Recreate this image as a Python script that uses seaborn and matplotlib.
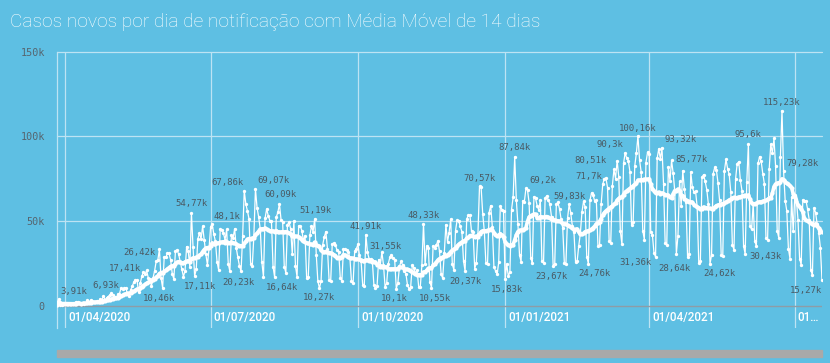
import numpy as np
import pandas as pd
import matplotlib.pyplot as plt
from matplotlib.transforms import ScaledTranslation
from matplotlib.patches import Rectangle
import seaborn as sns

# casos novos por dia de notificação (milhares), de 27/03/2020 a 18/07/2021
mar_2020 = [0.50, 3.91, 0.35, 0.32, 1.14]
apr_2020 = [1.12, 1.07, 1.15, 1.22, 0.85, 0.93, 1.66, 2.21, 1.93, 1.78,
            1.09, 1.44, 1.26, 1.83, 3.06, 2.11, 3.26, 2.92, 2.06, 1.93,
            2.50, 2.68, 3.74, 3.50, 5.51, 3.38, 4.61, 5.39, 6.28, 7.22]
may_2020 = [6.21, 4.97, 4.59, 6.63, 6.93, 10.50, 9.89, 10.22, 10.61, 6.76,
            5.63, 9.26, 11.39, 13.94, 15.31, 14.92, 7.94, 13.14, 17.41, 19.95,
            18.51, 20.80, 16.51, 15.81, 11.69, 16.32, 20.60, 26.42, 26.93, 33.27, 16.41]
jun_2020 = [10.46, 28.94, 28.63, 30.93, 30.83, 27.08, 18.91, 15.65, 32.09, 32.91,
            30.41, 25.98, 21.70, 17.11, 20.65, 34.92, 32.19, 22.77, 54.77, 34.67,
            17.46, 21.43, 39.44, 42.73, 39.48, 46.91, 38.69, 30.48, 24.05, 33.85]
jul_2020 = [46.71, 48.10, 42.22, 37.92, 26.05, 21.05, 45.31, 44.57, 42.62, 39.02,
            45.05, 24.83, 20.29, 41.86, 39.92, 45.40, 34.18, 28.53, 23.53, 20.23,
            41.01, 67.86, 59.96, 55.89, 51.15, 24.58, 23.28, 40.82, 69.07, 57.84, 52.38]
aug_2020 = [45.39, 25.80, 16.90, 51.60, 57.15, 53.14, 50.23, 49.97, 23.01, 16.64,
            52.16, 55.16, 60.09, 50.64, 49.27, 23.10, 19.37, 47.78, 49.30, 45.32,
            30.36, 50.03, 23.42, 17.08, 47.13, 47.16, 44.24, 38.38, 41.35, 16.16, 17.17]
sep_2020 = [41.44, 46.93, 43.77, 51.19, 30.17, 14.28, 10.27, 14.78, 35.82, 40.56,
            43.72, 33.52, 15.16, 14.28, 36.65, 36.82, 35.74, 32.59, 31.71, 16.39,
            14.72, 33.28, 33.54, 32.82, 31.91, 28.38, 14.32, 13.16, 32.06, 33.41]
oct_2020 = [36.16, 29.81, 26.31, 12.35, 11.84, 41.91, 31.43, 27.75, 27.44, 26.75,
            12.34, 10.22, 11.80, 27.24, 24.20, 31.55, 24.06, 11.22, 13.24, 24.82,
            28.63, 30.03, 28.08, 26.98, 10.10, 13.49, 23.23, 26.11, 23.98, 20.40, 18.95]
nov_2020 = [12.14, 9.80, 11.28, 23.98, 22.44, 18.86, 20.97, 11.02, 11.20, 23.97,
            48.33, 24.47, 35.29, 33.92, 14.13, 10.55, 35.29, 34.09, 35.75, 38.31,
            32.07, 18.62, 16.21, 31.10, 47.90, 37.61, 43.20, 51.09, 24.47, 21.14]
dec_2020 = [44.21, 50.43, 49.86, 46.88, 43.63, 26.36, 20.37, 51.09, 53.35, 53.45,
            43.90, 43.26, 21.83, 25.19, 42.13, 70.57, 69.83, 54.43, 43.97, 25.02,
            24.43, 55.02, 59.14, 46.70, 22.97, 20.55, 18.48, 25.61, 58.72, 56.77, 55.65]
jan_2021 = [15.83, 24.61, 17.34, 20.01, 56.65, 64.03, 87.84, 62.53, 48.04, 29.79,
            25.82, 61.99, 61.23, 69.20, 68.14, 60.71, 28.40, 24.90, 64.39, 63.50,
            59.12, 56.55, 62.33, 26.10, 25.30, 63.50, 64.80, 62.40, 59.80, 52.30, 23.67]
feb_2021 = [24.59, 59.90, 61.00, 57.10, 50.90, 45.78, 25.10, 24.88, 51.49, 59.83,
            54.74, 47.18, 43.45, 25.92, 26.16, 35.36, 42.50, 55.16, 61.64, 58.25,
            29.03, 24.76, 62.20, 66.59, 65.17, 61.60, 62.25, 35.44]
mar_2021 = [35.74, 59.93, 71.70, 75.10, 75.34, 69.61, 38.16, 36.94, 70.76, 80.51,
            75.10, 85.66, 76.18, 43.81, 36.24, 84.00, 90.30, 86.98, 85.66, 79.07,
            47.77, 49.29, 82.49, 89.99, 100.16, 85.95, 79.07, 44.33, 38.93, 84.49, 90.64]
apr_2021 = [89.72, 43.21, 41.98, 31.36, 28.64, 86.98, 92.63, 86.65, 93.32, 71.83,
            37.02, 35.79, 82.19, 73.51, 85.77, 78.28, 67.64, 30.62, 41.28, 73.38,
            58.84, 79.72, 69.10, 61.42, 28.94, 30.57, 79.00, 69.80, 67.10, 67.64]
may_2021 = [58.30, 25.20, 26.10, 75.80, 77.36, 73.38, 68.60, 60.00, 24.62, 29.90,
            78.00, 81.70, 80.20, 72.70, 62.15, 30.20, 29.10, 79.50, 86.40, 81.00,
            77.60, 67.20, 35.80, 33.00, 74.90, 83.90, 85.00, 74.00, 68.00, 35.30, 30.43]
jun_2021 = [72.90, 95.60, 47.00, 45.00, 60.00, 37.90, 35.30, 84.00, 88.00, 85.20,
            78.00, 72.00, 39.80, 39.00, 80.60, 95.40, 90.00, 98.80, 82.30, 44.20,
            40.00, 87.80, 115.23, 79.28, 62.00, 56.00, 33.70, 27.80, 64.10, 43.80]
jul_2021 = [65.20, 63.00, 50.80, 27.80, 24.00, 62.50, 62.00, 62.00, 57.00, 50.80,
            21.00, 18.00, 57.70, 55.00, 48.00, 43.00, 34.10, 15.27]

# pontos que recebem rótulo de valor
label_dates = ['2020-03-28', '2020-05-05', '2020-05-19', '2020-05-28', '2020-06-01',
               '2020-06-19', '2020-06-14', '2020-07-02', '2020-07-22', '2020-07-20',
               '2020-07-29', '2020-08-13', '2020-08-10', '2020-09-04', '2020-09-07',
               '2020-10-06', '2020-10-16', '2020-10-25', '2020-11-11', '2020-11-16',
               '2020-12-16', '2020-12-07', '2021-01-07', '2021-01-01', '2021-01-14',
               '2021-01-31', '2021-02-10', '2021-02-22', '2021-03-03', '2021-03-10',
               '2021-03-17', '2021-03-25', '2021-04-04', '2021-04-05', '2021-04-09',
               '2021-04-15', '2021-05-09', '2021-06-02', '2021-05-31', '2021-06-23',
               '2021-06-24', '2021-07-18']
# deslocamento do texto em relação ao ponto (pixels)
label_dx = [15, -14, -17, -17, -4, 0, 17, 15, -17, -3,
            18, 1, 7, 1, 0, 0, 4, -2, 0, 3,
            0, 0, 0, 2, 17, -2, 0, 6, -14, -23,
            -15, 0, -18, 19, 19, 20, 9, 0, 20, 0,
            19, -16]
label_dy = [8, 8, 8, 8, -11, 9, -10, 8, 8, -11,
            8, 9, -10, 8, -9, 8, 6, -10, 8, -11,
            8, -10, 9, -11, 8, -11, 8, -10, 8, 9,
            8, 8, -10, -11, 8, 1, -10, 9, -2, 8,
            8, -11]

tick_dates = ['2020-04-01', '2020-07-01', '2020-10-01', '2021-01-01', '2021-04-01', '2021-07-01']
tick_text = ['01/04/2020', '01/07/2020', '01/10/2020', '01/01/2021', '01/04/2021', '01…']
y_ticks = [0, 50, 100, 150]
y_text = ['0', '50k', '100k', '150k']

casos = (mar_2020 + apr_2020 + may_2020 + jun_2020 + jul_2020 + aug_2020 + sep_2020
         + oct_2020 + nov_2020 + dec_2020 + jan_2021 + feb_2021 + mar_2021 + apr_2021
         + may_2021 + jun_2021 + jul_2021)
df = pd.DataFrame({'data': pd.date_range('2020-03-27', periods=len(casos), freq='D'),
                   'casos': casos})
df['media'] = df['casos'].rolling(14, min_periods=1).mean()

BG = '#5EBFE3'
GRID = '#BDE3F3'
TXT = '#4A5963'

sns.set_style('white')
fig = plt.figure(figsize=(8.3, 3.63), dpi=100)
fig.patch.set_facecolor(BG)
ax = fig.add_axes([57 / 830, 35 / 363, 765 / 830, 276.3 / 363])
ax.set_facecolor(BG)

# grade
for v in y_ticks[1:]:
    ax.axhline(v, color=GRID, lw=0.9, zorder=0, clip_on=False)
ax.axhline(0, color='#8E9CA6', lw=1.0, zorder=1)
for d in tick_dates:
    ax.axvline(pd.Timestamp(d), color=GRID, lw=0.9, zorder=0)

sns.lineplot(data=df, x='data', y='casos', ax=ax, color='white', lw=0.9,
             marker='o', markersize=2.4, markeredgewidth=0, zorder=3)
sns.lineplot(data=df, x='data', y='media', ax=ax, color='white', lw=2.6,
             marker='o', markersize=3.0, markeredgewidth=0, zorder=4)

ax.set_xlim(df['data'].iloc[0], df['data'].iloc[-1])
ax.set_ylim(-13.2, 150)
ax.set_xlabel('')
ax.set_ylabel('')

for s in ['top', 'right', 'bottom']:
    ax.spines[s].set_visible(False)
ax.spines['left'].set_color(GRID)
ax.spines['left'].set_linewidth(0.9)

ax.set_yticks(y_ticks)
ax.set_yticklabels(y_text)
ax.tick_params(axis='y', length=6.5, width=0.9, color=GRID, pad=2.2,
               labelsize=7.3, labelcolor='#56656F')
for t in ax.get_yticklabels():
    t.set_family('DejaVu Sans Mono')

ax.set_xticks(pd.to_datetime(tick_dates))
ax.set_xticklabels(tick_text)
ax.tick_params(axis='x', length=0, pad=-12, labelsize=8.4, labelcolor='white')
shift = ScaledTranslation(3 / 100, 0, fig.dpi_scale_trans)
for t in ax.get_xticklabels():
    t.set_ha('left')
    t.set_family('Roboto')
    t.set_weight('medium')
    t.set_transform(t.get_transform() + shift)

# rótulos de valor
serie = df.set_index('data')['casos']
for d, dx, dy in zip(label_dates, label_dx, label_dy):
    ts = pd.Timestamp(d)
    v = serie.loc[ts]
    txt = f"{v:.2f}".rstrip('0').rstrip('.').replace('.', ',') + 'k'
    ax.annotate(txt, (ts, v), xytext=(dx, dy), textcoords='offset pixels',
                ha='center', va='center', fontsize=6.5, family='DejaVu Sans Mono',
                color=TXT, zorder=5)

# título
fig.text(10 / 830, 1 - 27 / 363, 'Casos novos por dia de notificação com Média Móvel de 14 dias',
         color='white', fontsize=13.8, family='Roboto', weight='light',
         ha='left', va='baseline')

# barra de rolagem
fig.patches.append(Rectangle((57 / 830, 6 / 363), 765 / 830, 7 / 363,
                             transform=fig.transFigure, color='#A9A9A9', zorder=0))

fig.savefig('out.png', dpi=100, facecolor=BG)
